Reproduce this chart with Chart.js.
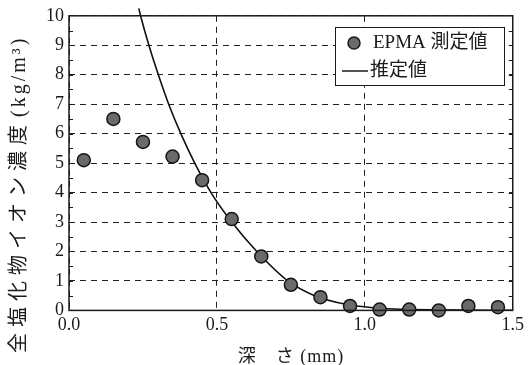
<!DOCTYPE html>
<html>
<head>
<meta charset="utf-8">
<script src="https://cdn.jsdelivr.net/npm/chart.js@4"></script>
<style>
  html, body { margin: 0; padding: 0; background: #fff; }
  #wrap { width: 528px; height: 365px; }
</style>
</head>
<body>
<div id="wrap"><canvas id="chlorideChart"></canvas></div>
<script>
// measured chloride (EPMA) vs depth
const depth = [0.05, 0.15, 0.25, 0.35, 0.45, 0.55, 0.65, 0.75, 0.85, 0.95, 1.05, 1.15, 1.25, 1.35, 1.45];
const measured = [5.1, 6.5, 5.72, 5.22, 4.42, 3.1, 1.83, 0.87, 0.45, 0.15, 0.03, 0.03, 0.0, 0.15, 0.11];

// estimated curve
const fitDepth = [0.236, 0.242, 0.27, 0.302, 0.337, 0.378, 0.425, 0.48, 0.55, 0.635, 0.74, 0.83, 0.94, 1.02, 1.1, 1.25, 1.5];
const fitValue = [10.25, 10, 9, 8, 7, 6, 5, 4, 3, 2, 1, 0.5, 0.2, 0.1, 0.05, 0.02, 0.0];

const xTicks = [0.0, 0.5, 1.0, 1.5];
const yTicks = [0, 1, 2, 3, 4, 5, 6, 7, 8, 9, 10];

const seriesLabels = ['EPMA 測定値', '推定値'];
const xTitle = '深　さ (mm)';
const yTitleMain = '全塩化物イオン濃度';
const yTitleUnit = '(kg/m³)';

const FONT = "'Liberation Serif', 'Noto Sans CJK JP', serif";
const INK = '#1a1a1a';

// frame, minor ticks, axis titles and the boxed legend
const decor = {
    id: 'decor',
    afterDraw: function(chart) {
        const ctx = chart.ctx;
        const a = chart.chartArea;
        const y = chart.scales.y;
        const spacing = 'letterSpacing' in ctx;
        ctx.save();

        // minor ticks on left/right edges
        ctx.strokeStyle = INK;
        ctx.lineWidth = 1;
        ctx.beginPath();
        for (let v = 0.5; v < 10; v += 0.5) {
            const py = Math.round(y.getPixelForValue(v)) + 0.5;
            ctx.moveTo(a.left, py); ctx.lineTo(a.left + 4, py);
            ctx.moveTo(a.right, py); ctx.lineTo(a.right - 4, py);
        }
        ctx.stroke();

        // plot frame
        ctx.lineWidth = 1.5;
        ctx.strokeRect(a.left, a.top, a.right - a.left, a.bottom - a.top);

        // y title, read bottom to top
        ctx.fillStyle = INK;
        ctx.font = '20px ' + FONT;
        ctx.textAlign = 'left';
        ctx.textBaseline = 'middle';
        ctx.translate(20, 353);
        ctx.rotate(-Math.PI / 2);
        if (spacing) ctx.letterSpacing = '6px';
        const w1 = ctx.measureText(yTitleMain).width;
        ctx.fillText(yTitleMain, 0, 0);
        if (spacing) ctx.letterSpacing = '3px';
        ctx.fillText(yTitleUnit, w1 + 2, 0);
        ctx.restore();

        // x title
        ctx.save();
        ctx.fillStyle = INK;
        ctx.font = '18px ' + FONT;
        ctx.textAlign = 'center';
        ctx.textBaseline = 'middle';
        if (spacing) ctx.letterSpacing = '1px';
        ctx.fillText(xTitle, 291, 357);
        ctx.restore();

        // legend box
        ctx.save();
        const bx = 335, by = 27, bw = 169, bh = 58;
        ctx.fillStyle = '#fff';
        ctx.fillRect(bx, by, bw, bh);
        ctx.strokeStyle = INK;
        ctx.lineWidth = 1;
        ctx.strokeRect(bx + 0.5, by + 0.5, bw, bh);

        ctx.beginPath();
        ctx.arc(354, 43, 6, 0, Math.PI * 2);
        ctx.fillStyle = '#6a6a6a';
        ctx.fill();
        ctx.lineWidth = 1.5;
        ctx.stroke();

        ctx.beginPath();
        ctx.moveTo(342, 71); ctx.lineTo(368, 71);
        ctx.lineWidth = 1.5;
        ctx.stroke();

        ctx.fillStyle = INK;
        ctx.font = '19px ' + FONT;
        ctx.textAlign = 'left';
        ctx.textBaseline = 'middle';
        ctx.fillText(seriesLabels[0], 373, 43);
        ctx.fillText(seriesLabels[1], 370, 71);
        ctx.restore();
    }
};

const dashGrid = {
    color: '#222',
    lineWidth: 1,
    drawTicks: false
};

new Chart(document.getElementById('chlorideChart').getContext('2d'), {
    type: 'scatter',
    data: {
        datasets: [
            {
                label: seriesLabels[0],
                data: depth.map((d, i) => ({ x: d, y: measured[i] })),
                pointRadius: 6.5,
                pointBackgroundColor: '#6a6a6a',
                pointBorderColor: '#151515',
                pointBorderWidth: 1.5,
                clip: false,
                order: 0
            },
            {
                type: 'line',
                label: seriesLabels[1],
                data: fitDepth.map((d, i) => ({ x: d, y: fitValue[i] })),
                borderColor: '#111',
                borderWidth: 1.6,
                pointRadius: 0,
                fill: false,
                cubicInterpolationMode: 'monotone',
                clip: { left: 0, top: 12, right: 0, bottom: 0 },
                order: 1
            }
        ]
    },
    options: {
        responsive: true,
        maintainAspectRatio: false,
        animation: false,
        layout: { padding: { left: 41, top: 9, right: 0, bottom: 25 } },
        plugins: { legend: { display: false }, tooltip: { enabled: false } },
        scales: {
            x: {
                type: 'linear',
                min: 0, max: 1.5,
                afterBuildTicks: axis => { axis.ticks = xTicks.map(v => ({ value: v })); },
                ticks: { color: INK, font: { family: FONT, size: 18 }, padding: 4,
                         callback: v => v.toFixed(1) },
                grid: dashGrid,
                border: { display: false, dash: [6, 5] }
            },
            y: {
                min: 0, max: 10,
                afterBuildTicks: axis => { axis.ticks = yTicks.map(v => ({ value: v })); },
                ticks: { color: INK, font: { family: FONT, size: 18 }, padding: 5 },
                grid: dashGrid,
                border: { display: false, dash: [6, 5] }
            }
        }
    },
    plugins: [decor]
});
</script>
</body>
</html>
